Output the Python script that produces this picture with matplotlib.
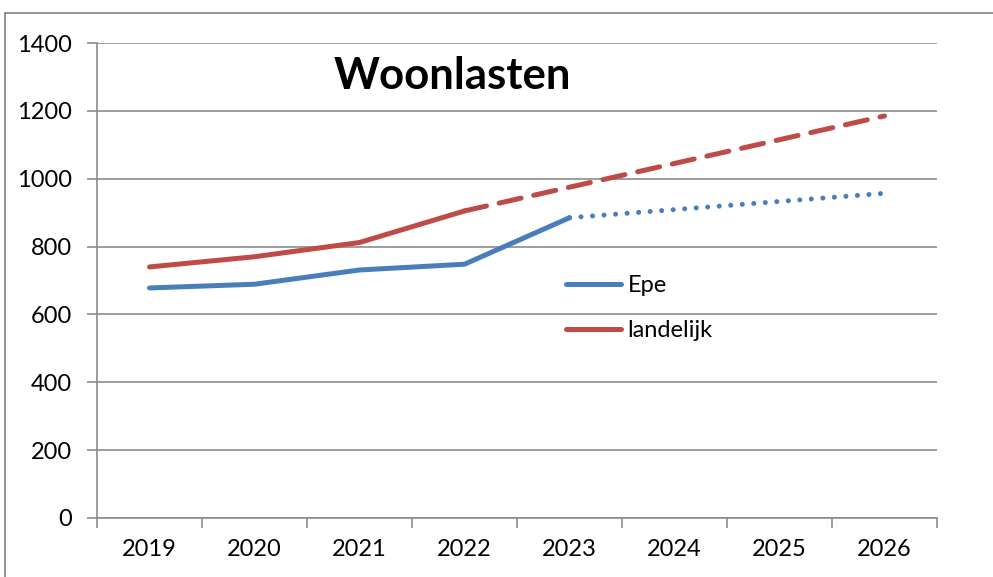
import matplotlib
matplotlib.use("Agg")
import matplotlib.pyplot as plt
from matplotlib.lines import Line2D
from matplotlib.patches import Rectangle

years = ["2019", "2020", "2021", "2022", "2023", "2024", "2025", "2026"]
epe_actual = [678, 689, 731, 748, 885]
epe_forecast = [885, 909, 933, 957]
land_actual = [740, 770, 812, 905]
land_forecast = [905, 975, 1045, 1115, 1185]
yticks = [0, 200, 400, 600, 800, 1000, 1200, 1400]

plt.rcParams['font.family'] = ['Lato', 'DejaVu Sans']

fig = plt.figure(figsize=(9.93, 5.77), dpi=100)
ax = fig.add_axes([97/993, 1-518/577, (937-97)/993, (518-43)/577])

blue = "#4a7ebb"
red = "#be4b48"
lw = 3.6

x = list(range(len(years)))
ax.plot(x[:5], epe_actual, color=blue, lw=lw, solid_capstyle="round", solid_joinstyle="round", zorder=3)
ax.plot(x[4:], epe_forecast, color=blue, lw=lw, linestyle=(0, (0.01, 2.3)), dash_capstyle="round", zorder=3)
ax.plot(x[:4], land_actual, color=red, lw=lw, solid_capstyle="round", solid_joinstyle="round", zorder=3)
ax.plot(x[3:], land_forecast, color=red, lw=lw, linestyle=(0, (4.5, 2.6)), dash_capstyle="round", zorder=3)

ax.set_xlim(-0.5, 7.5)
ax.set_ylim(0, 1400)
ax.set_yticks(yticks)
ax.set_yticklabels([str(v) for v in yticks], fontsize=17)
ax.yaxis.grid(True, color="#8c8c8c", lw=1.2)
ax.set_axisbelow(True)

ax.set_xticks([i - 0.5 for i in range(len(years) + 1)])
ax.set_xticklabels([])
ax.set_xticks(x, minor=True)
ax.set_xticklabels(years, minor=True, fontsize=17)
ax.tick_params(axis="x", which="minor", length=0, pad=15)
ax.tick_params(axis="x", which="major", length=7, color="#8c8c8c", width=1.2)
ax.tick_params(axis="y", length=7, color="#8c8c8c", width=1.2, pad=11)

for s in ["top", "right"]:
    ax.spines[s].set_visible(False)
for s in ["left", "bottom"]:
    ax.spines[s].set_color("#8c8c8c")
    ax.spines[s].set_linewidth(1.2)

ax.text(0.423, 0.93, "Woonlasten", transform=ax.transAxes, fontsize=31.5,
        fontweight="bold", ha="center", va="center")

handles = [Line2D([], [], color=blue, lw=lw, solid_capstyle="round"),
           Line2D([], [], color=red, lw=lw, solid_capstyle="round")]
leg = ax.legend(handles, ["Epe", "landelijk"], loc="upper left",
                bbox_to_anchor=((545-97)/840, (518-254)/475), frameon=False,
                fontsize=17, handlelength=2.3, handletextpad=0.3, labelspacing=1.0)

fig.patches.append(Rectangle((5/993, -0.1), 1.2, 1-13/577+0.1, transform=fig.transFigure,
                             fill=False, edgecolor="#808080", lw=1.2))

fig.savefig("out.png", dpi=100)
